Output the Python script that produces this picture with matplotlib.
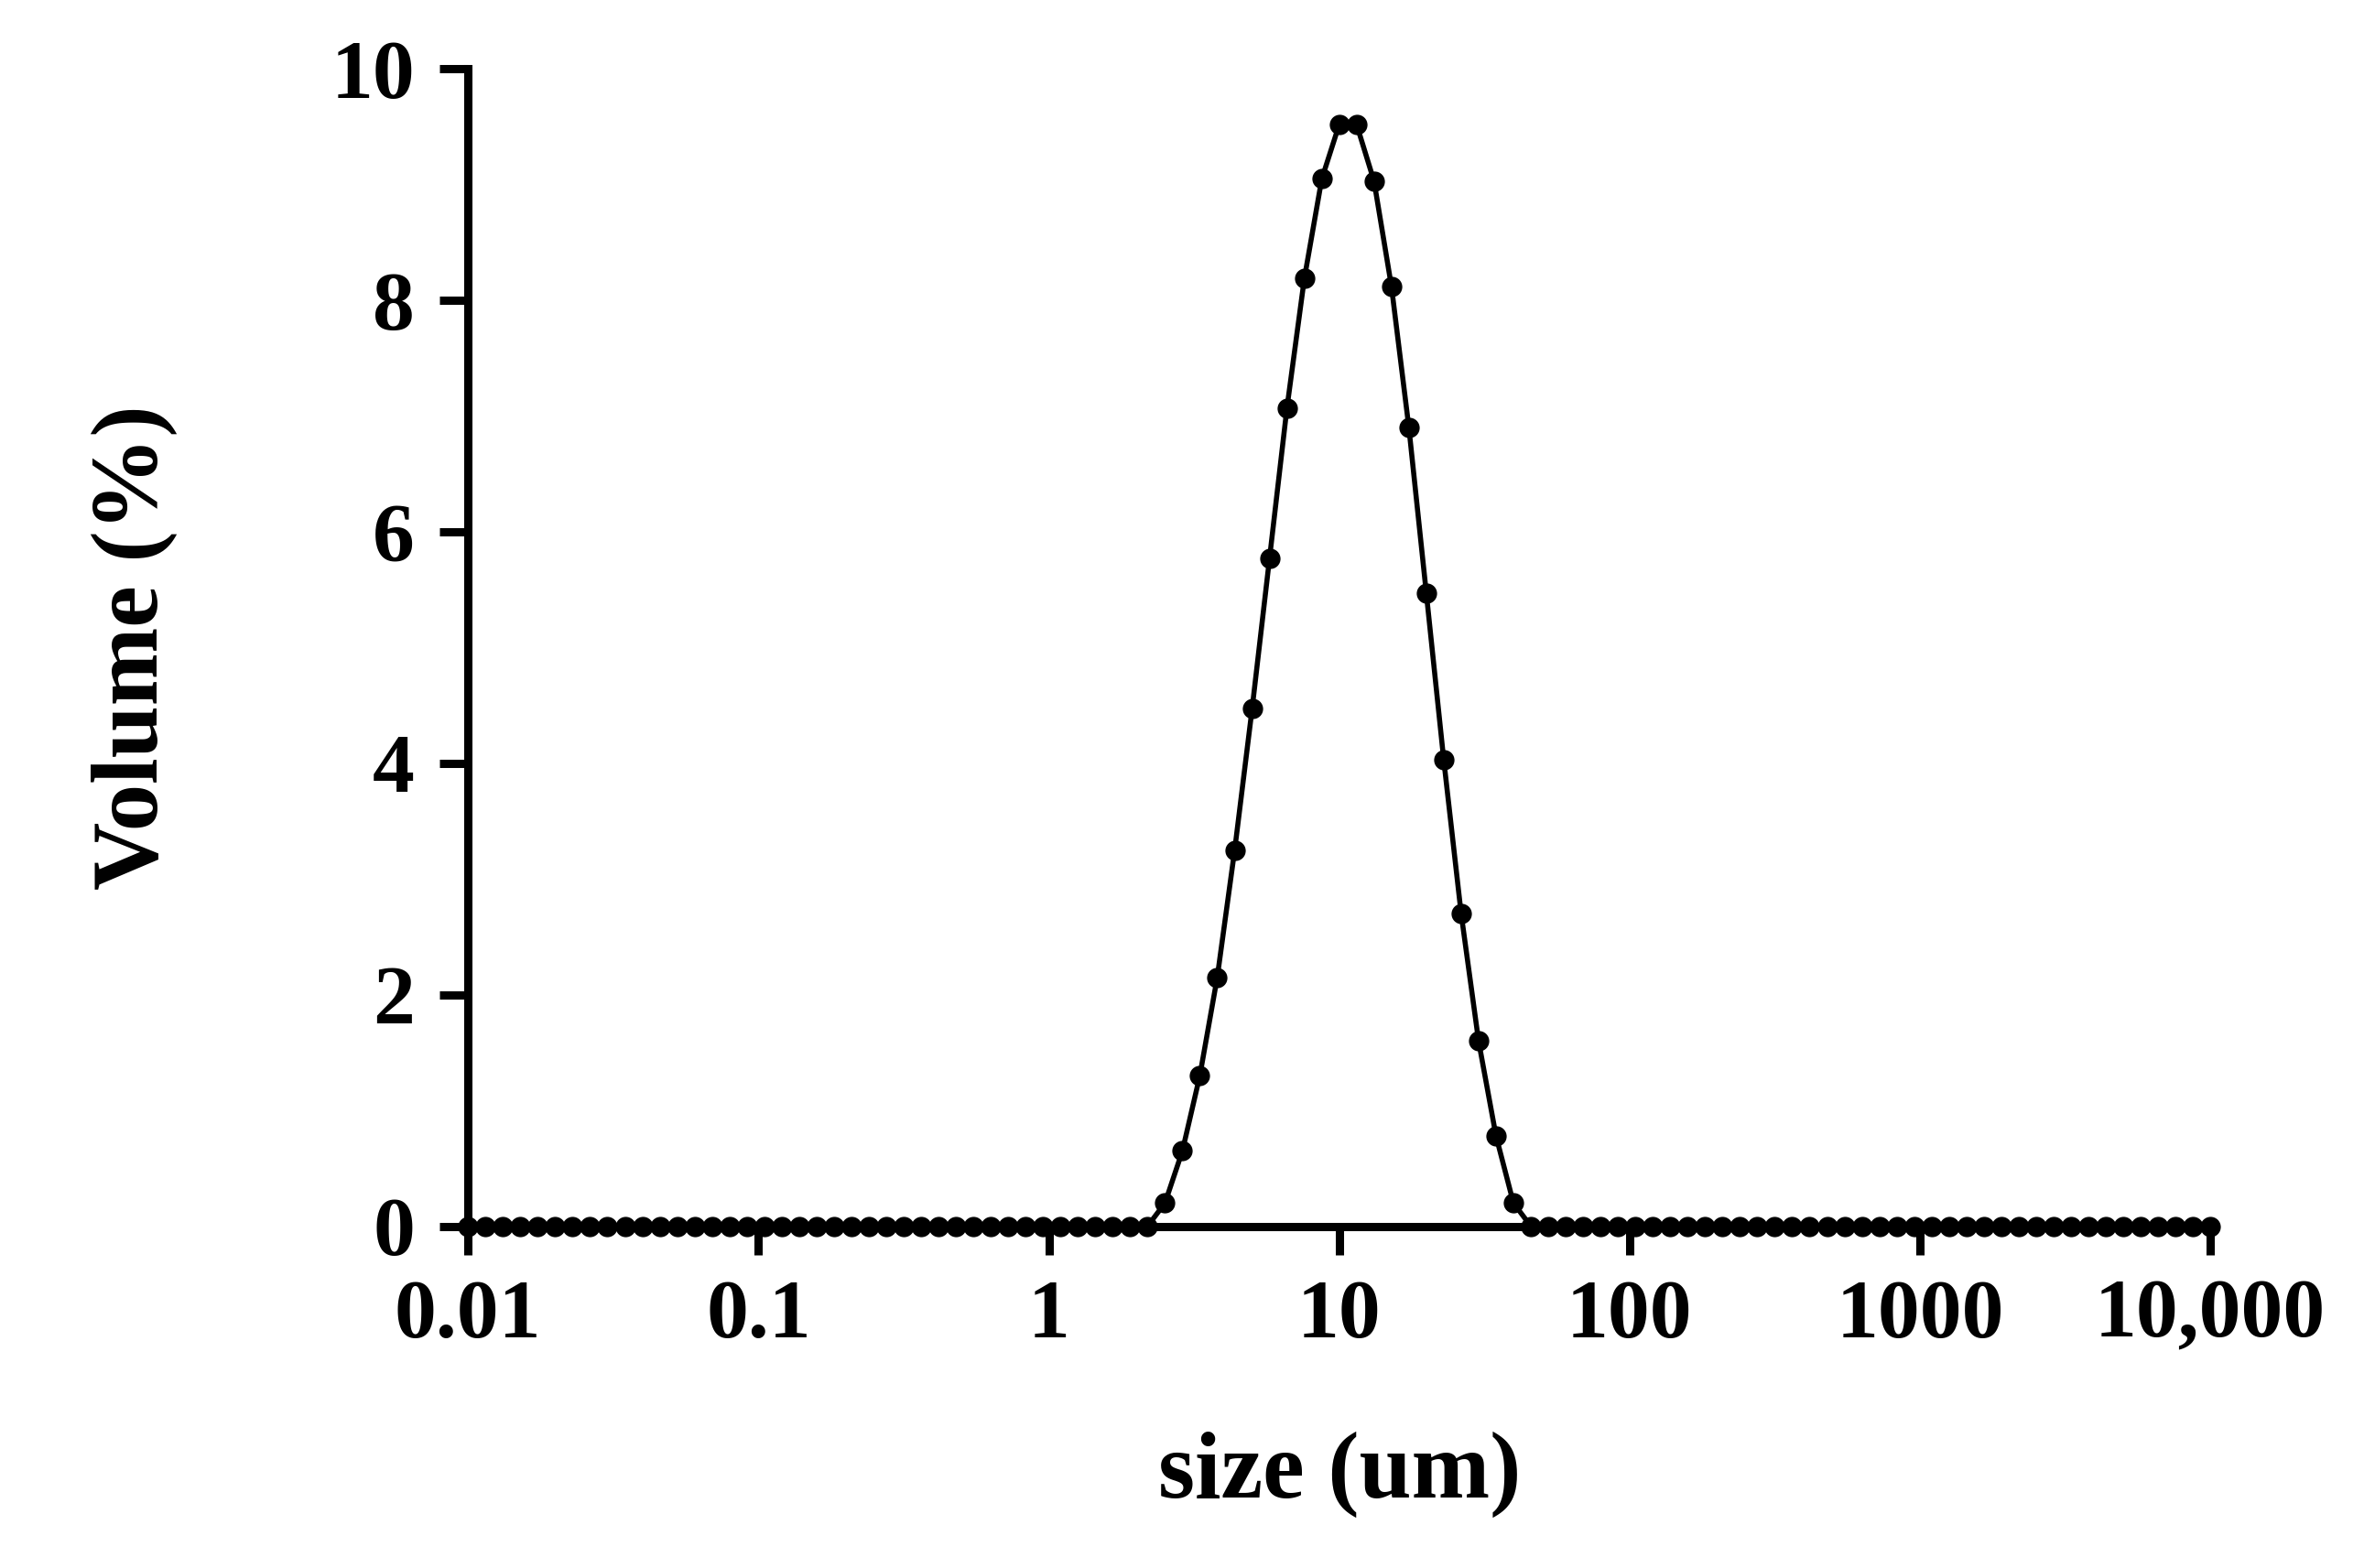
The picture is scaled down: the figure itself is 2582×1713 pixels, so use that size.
import numpy as np
import matplotlib.pyplot as plt
from matplotlib.ticker import FixedLocator, NullLocator

# 101 size classes, 0.01 to 10000 um (log spaced bins as exported by instrument)
size_um = 0.01 * 10 ** (0.06 * np.arange(101))
peak_vals = [0.2, 0.65, 1.3, 2.15, 3.25, 4.47, 5.77, 7.07, 8.19, 9.05, 9.52,
             9.52, 9.03, 8.12, 6.9, 5.47, 4.03, 2.7, 1.6, 0.78, 0.2]
volume = [0.0] * 40 + peak_vals + [0.0] * 40

xticks = [0.01, 0.1, 1, 10, 100, 1000, 10000]
xticklabels = ["0.01", "0.1", "1", "10", "100", "1000", "10,000"]

plt.rcParams['font.family'] = ['Liberation Serif', 'DejaVu Serif']
plt.rcParams['font.weight'] = 'bold'

fig = plt.figure(figsize=(25.82, 17.13), dpi=100)
ax = fig.add_axes([0.198, 0.218, 0.737, 0.738])
ax.plot(size_um, volume, color='black', lw=4, marker='o', ms=15, zorder=3, clip_on=False)
ax.set_xscale('log')
ax.set_xlim(0.01, 10000)
ax.set_ylim(0, 10)
ax.xaxis.set_major_locator(FixedLocator(xticks))
ax.xaxis.set_minor_locator(NullLocator())
ax.set_xticklabels(xticklabels)
ax.set_yticks([0, 2, 4, 6, 8, 10])
for s in ['top', 'right']:
    ax.spines[s].set_visible(False)
for s in ['left', 'bottom']:
    ax.spines[s].set_linewidth(6.5)
ax.tick_params(width=6.5, length=22, labelsize=66, pad=20)
for t in ax.get_xticklabels() + ax.get_yticklabels():
    t.set_fontweight('bold')
ax.set_xlabel("size (um)", fontsize=74, fontweight='bold', labelpad=60)
ax.set_ylabel("Volume (%)", fontsize=74, fontweight='bold', labelpad=120)
fig.savefig("out.png", dpi=100)
